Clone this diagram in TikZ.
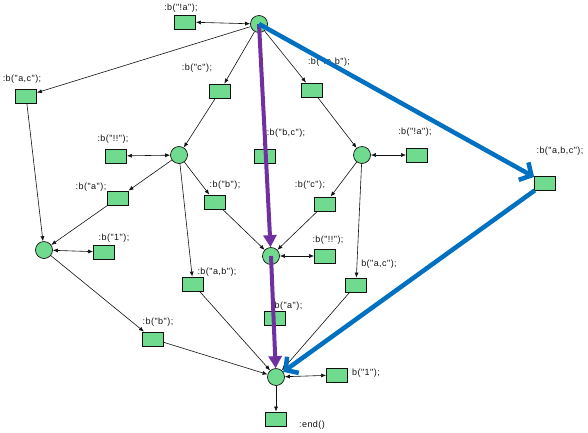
\documentclass[tikz,border=0pt]{standalone}
\usepackage{fontspec}
\setmainfont{Liberation Sans}
\newfontfamily\lblfont[LetterSpace=5]{Liberation Sans}
\usetikzlibrary{arrows.meta}
\definecolor{net}{HTML}{70DB8F}
\definecolor{ink}{HTML}{111111}
\definecolor{violet}{HTML}{7030A0}
\definecolor{azure}{HTML}{0070C0}
\tikzset{
  place/.style={circle,draw=ink,fill=net,line width=0.7pt,minimum size=17pt,inner sep=0pt},
  trans/.style={draw=ink,fill=net,line width=0.8pt,minimum width=21pt,minimum height=14pt,inner sep=0pt},
  lbl/.style={inner sep=0pt,font=\lblfont\fontsize{9}{10}\selectfont,text=ink},
  arc/.style={-{Latex[length=5pt,width=4pt]},line width=0.6pt,draw=ink},
  both/.style={{Latex[length=5pt,width=4pt]}-{Latex[length=5pt,width=4pt]},line width=0.6pt,draw=ink},
  hot/.style={-{Triangle[length=12pt,width=13pt]},line width=4pt,draw=violet},
  alt/.style={-{Straight Barb[length=9pt,width=20pt]},line width=4.5pt,draw=azure}
}
\begin{document}
\begin{tikzpicture}[x=1pt,y=-1pt]
    \useasboundingbox (0,0) rectangle (588,432);
    \node[place] (p0) at (259,24) {};
    \node[place] (p1) at (179,155) {};
    \node[place] (p2) at (362,155) {};
    \node[place] (p3) at (44,250) {};
    \node[place] (p4) at (271,256) {};
    \node[place] (p5) at (276,377) {};
    \node[trans] (tna) at (185,22) {};
    \node[trans] (tac) at (26,96) {};
    \node[trans] (tc) at (220,91) {};
    \node[trans] (tnab) at (312,90) {};
    \node[trans] (tnn) at (116,156) {};
    \node[trans] (tbc) at (265,156) {};
    \node[trans] (tna2) at (417,155) {};
    \node[trans] (ta) at (118,198) {};
    \node[trans] (tb) at (215,202) {};
    \node[trans] (tc2) at (325,204) {};
    \node[trans] (tabc) at (545,183) {};
    \node[trans] (t1) at (104,252) {};
    \node[trans] (tab) at (193,284) {};
    \node[trans] (tnn2) at (325,256) {};
    \node[trans] (tac2) at (356,285) {};
    \node[trans] (ta2) at (275,318) {};
    \node[trans] (tb2) at (153,339) {};
    \node[trans] (t12) at (337,375) {};
    \node[trans] (tend) at (276,419) {};
    \node[lbl] (lna) at (181,8) {:b("!a");};
    \node[lbl] (lac) at (22,79) {:b("a,c");};
    \node[lbl] (lc) at (197,68) {:b("c");};
    \node[lbl] (lnab) at (329,62) {:b("!a,b");};
    \node[lbl] (lnn) at (113,139) {:b("!!");};
    \node[lbl] (lbc) at (286,133) {:b("b,c");};
    \node[lbl] (lna2) at (415,132) {:b("!a");};
    \node[lbl] (la) at (91,187) {:b("a");};
    \node[lbl] (lb) at (225,185) {:b("b");};
    \node[lbl] (lc2) at (310,185) {:b("c");};
    \node[lbl] (labc) at (560,151) {:b("a,b,c");};
    \node[lbl] (l1) at (114,238) {:b("1");};
    \node[lbl] (lab) at (217,272) {:b("a,b");};
    \node[lbl] (lnn2) at (328,240) {:b("!!");};
    \node[lbl] (lac2) at (379,264) {b("a,c");};
    \node[lbl] (la2) at (287,306) {:b("a");};
    \node[lbl] (lb2) at (158,322) {:b("b");};
    \node[lbl] (l12) at (366,373) {b("1");};
    \node[lbl] (lend) at (312,425) {:end()};
    \draw[both] (p0) -- (tna);
    \draw[both] (p1) -- (tnn);
    \draw[both] (p2) -- (tna2);
    \draw[both] (p3) -- (t1);
    \draw[both] (p4) -- (tnn2);
    \draw[both] (p5) -- (t12);
    \draw[arc] (p0) -- (tac);
    \draw[arc] (p0) -- (tc);
    \draw[arc] (p0) -- (tbc);
    \draw[arc] (p0) -- (tnab);
    \draw[arc] (p0) -- (tabc);
    \draw[arc] (tc) -- (p1);
    \draw[arc] (tnab) -- (p2);
    \draw[arc] (p1) -- (ta);
    \draw[arc] (p1) -- (tb);
    \draw[arc] (p1) -- (tab);
    \draw[arc] (p2) -- (tc2);
    \draw[arc] (p2) -- (tac2);
    \draw[arc] (tac) -- (p3);
    \draw[arc] (ta) -- (p3);
    \draw[arc] (p3) -- (tb2);
    \draw[arc] (tb) -- (p4);
    \draw[arc] (tc2) -- (p4);
    \draw[arc] (tbc) -- (p4);
    \draw[arc] (p4) -- (ta2);
    \draw[arc] (tab) -- (p5);
    \draw[arc] (tb2) -- (p5);
    \draw[arc] (ta2) -- (p5);
    \draw[arc] (tac2) -- (p5);
    \draw[arc] (tabc) -- (p5);
    \draw[arc] (p5) -- (tend);
    \draw[hot] (p0.center) -- (p4);
    \draw[hot] (p4.center) -- (p5);
    \draw[alt] (p0.center) -- (tabc);
    \draw[alt] (tabc) -- (p5);
\end{tikzpicture}
\end{document}
